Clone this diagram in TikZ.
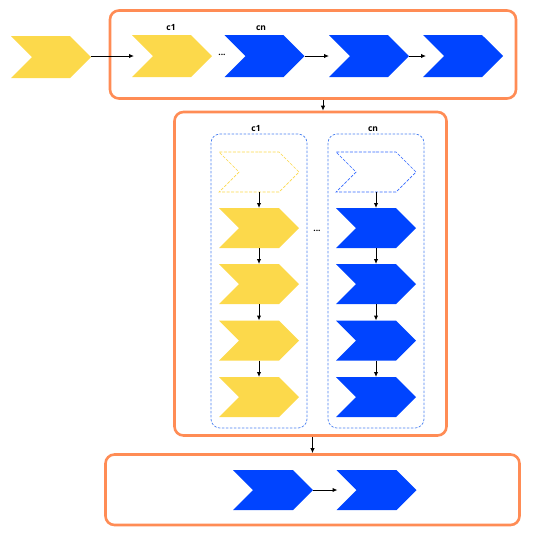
\documentclass[tikz,border=0pt]{standalone}
\usepackage{fontspec}
\setsansfont{Open Sans}
\usetikzlibrary{arrows.meta,shapes.symbols}

\definecolor{chevyellow}{HTML}{FCD94B}
\definecolor{chevblue}{HTML}{0044FF}
\definecolor{stageorange}{HTML}{FF8C55}
\definecolor{laneblue}{HTML}{4A80F0}

\tikzset{
    chev/.style={shape=signal, signal from=west, signal to=east, signal pointer angle=90,
        minimum width=80pt, minimum height=40pt, inner sep=0pt, outer sep=0pt},
    ychev/.style={chev, fill=chevyellow},
    bchev/.style={chev, fill=chevblue},
    ychevdash/.style={chev, fill=white, draw=chevyellow, line width=0.7pt, dash pattern=on 3pt off 1.5pt},
    bchevdash/.style={chev, fill=white, draw=chevblue!80!white, line width=0.7pt, dash pattern=on 3pt off 1.5pt},
    stage/.style={draw=stageorange, line width=2.6pt, rounded corners=9pt, inner sep=0pt},
    lane/.style={draw=laneblue, line width=0.7pt, dash pattern=on 2.5pt off 1.5pt, rounded corners=9pt,
        minimum width=96pt, minimum height=294pt, inner sep=0pt},
    lbl/.style={font=\sffamily\bfseries\fontsize{8.5}{10}\selectfont, inner sep=0pt},
    flow/.style={-{Latex[length=5pt,width=4.5pt]}, line width=1pt, black}
}

\begin{document}
\begin{tikzpicture}[x=1pt,y=-1pt]
    \useasboundingbox (0,0) rectangle (546,542);

    % stage boxes
    \node[stage, minimum width=406pt, minimum height=88pt] (top) at (313,54.5) {};
    \node[stage, minimum width=272pt, minimum height=323.5pt] (mid) at (310.5,273.75) {};
    \node[stage, minimum width=414pt, minimum height=70.5pt] (bot) at (312.5,489.75) {};

    % top row
    \node[ychev, minimum height=42pt] (in) at (51,57) {};
    \node[ychev, minimum height=42pt] (c1) at (172,56) {};
    \node[bchev, minimum height=42pt] (cn) at (264.5,56) {};
    \node[bchev, minimum height=42pt] (t2) at (369,56) {};
    \node[bchev, minimum height=42pt] (t3) at (463,56) {};
    \node[lbl] (c1lbl) at (171,28) {c1};
    \node[lbl] (cnlbl) at (261,28) {cn};
    \node[lbl] (tdots) at (222,55) {...};

    \draw[flow] (in.east |- c1.center) -- ([xshift=-38pt]c1.center);
    \draw[flow] (cn.east) -- ([xshift=-40pt]t2.center);
    \draw[flow] (t2.east) -- ([xshift=-37pt]t3.center);

    % lanes
    \node[lane] (lane1) at (259,281) {};
    \node[lane] (lanen) at (376,281) {};
    \node[lbl] (l1lbl) at (256,129) {c1};
    \node[lbl] (lnlbl) at (373,129) {cn};
    \node[lbl] (mdots) at (317,231) {...};

    \node[ychevdash] (a0) at (259,172) {};
    \node[ychev] (a1) at (259,228) {};
    \node[ychev] (a2) at (259,284) {};
    \node[ychev] (a3) at (259,340.5) {};
    \node[ychev] (a4) at (259,397) {};
    \node[bchevdash] (b0) at (376,172) {};
    \node[bchev] (b1) at (376,228) {};
    \node[bchev] (b2) at (376,284) {};
    \node[bchev] (b3) at (376,340.5) {};
    \node[bchev] (b4) at (376,397) {};

    \draw[flow] (a0.south) -- (a1.north);
    \draw[flow] (a1.south) -- (a2.north);
    \draw[flow] (a2.south) -- (a3.north);
    \draw[flow] (a3.south) -- (a4.north);
    \draw[flow] (b0.south) -- (b1.north);
    \draw[flow] (b1.south) -- (b2.north);
    \draw[flow] (b2.south) -- (b3.north);
    \draw[flow] (b3.south) -- (b4.north);

    % bottom row
    \node[bchev] (r1) at (273,490) {};
    \node[bchev] (r2) at (376.5,490) {};
    \draw[flow] (r1.east) -- ([xshift=-39pt]r2.center);

    % between stages
    \draw[flow] ([xshift=10pt]top.south) -- ([xshift=10pt]top.south |- mid.north);
    \draw[flow] (mid.south -| bot.north) -- (bot.north);
\end{tikzpicture}
\end{document}
